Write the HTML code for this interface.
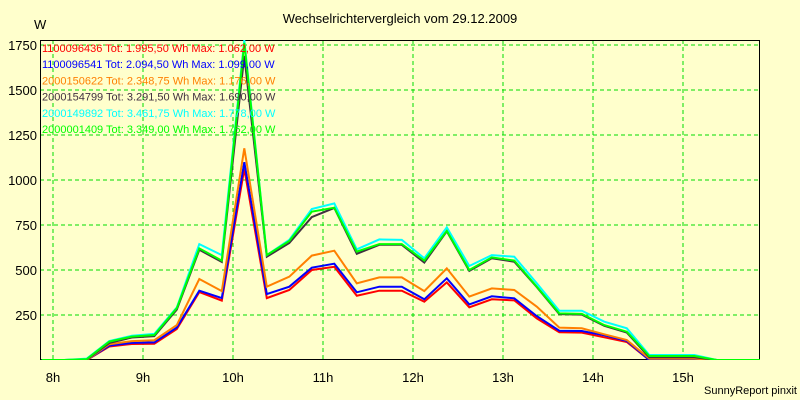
<!DOCTYPE html>
<html><head><meta charset="utf-8"><style>
html,body{margin:0;padding:0;background:#ffffcc;}
svg{display:block;font-family:"Liberation Sans",sans-serif;}
</style></head><body>
<svg id="chart" width="800" height="400" viewBox="0 0 800 400">
<rect x="0" y="0" width="800" height="400" fill="#ffffcc"/>
<text x="400" y="23" text-anchor="middle" font-size="13" fill="#000">Wechselrichtervergleich vom 29.12.2009</text>
<text x="34" y="29" font-size="13" fill="#000">W</text>
<text x="797" y="394" text-anchor="end" font-size="11" fill="#000">SunnyReport pinxit</text>
<g id="grid"></g>
<g id="axes"></g>
<g id="series"></g>
<g id="legend"></g>
</svg>
<script>
const yTicks = [250, 500, 750, 1000, 1250, 1500, 1750];
const xTickHours = [8, 9, 10, 11, 12, 13, 14, 15];
const xTickLabels = ["8h", "9h", "10h", "11h", "12h", "13h", "14h", "15h"];
const times = [7.875, 8.125, 8.375, 8.625, 8.875, 9.125, 9.375, 9.625, 9.875, 10.125, 10.375, 10.625, 10.875, 11.125, 11.375, 11.625, 11.875, 12.125, 12.375, 12.625, 12.875, 13.125, 13.375, 13.625, 13.875, 14.125, 14.375, 14.625, 14.875, 15.125, 15.375, 15.625, 15.875];
const seriesRed    = [0,0,0,75,89,90,172,377,330,1062,344,389,500,518,357,385,385,324,431,293,337,331,231,154,152,126,100,0,0,0,0,0,0];
const seriesBlue   = [0,0,0,80,95,98,180,385,344,1099,366,407,513,535,376,407,407,337,454,309,354,343,244,163,161,137,106,0,0,0,0,0,0];
const seriesOrange = [0,0,0,88,105,110,194,450,383,1176,407,463,580,607,426,459,459,383,509,352,398,389,296,180,176,143,111,8,8,8,0,0,0];
const seriesDark   = [0,0,3,95,125,132,280,612,545,1690,574,650,794,845,590,640,640,541,715,495,565,546,405,255,252,190,152,15,15,15,0,0,0];
const seriesCyan   = [0,0,8,105,135,145,292,644,583,1778,583,668,839,870,615,670,667,565,737,522,583,574,426,274,274,213,176,28,28,28,0,0,0];
const seriesGreen  = [0,0,5,102,130,139,288,620,552,1762,583,661,824,846,602,644,644,552,718,500,570,552,407,259,256,194,157,22,22,22,0,0,0];
const seriesNames = ["1100096436 Tot: 1.995,50 Wh Max: 1.062,00 W","1100096541 Tot: 2.094,50 Wh Max: 1.099,00 W","2000150622 Tot: 2.348,75 Wh Max: 1.176,00 W","2000154799 Tot: 3.291,50 Wh Max: 1.690,00 W","2000149892 Tot: 3.461,75 Wh Max: 1.778,00 W","2000001409 Tot: 3.349,00 Wh Max: 1.762,00 W"];
const seriesColors = ["#ff0000","#0000ff","#ff8000","#403040","#00ffff","#00ff00"];
const allSeries = [seriesRed, seriesBlue, seriesOrange, seriesDark, seriesCyan, seriesGreen];
const seriesKeys = ["red","blue","orange","dark","cyan","green"];

const L=40, R=760, T=40, B=360;
const ns="http://www.w3.org/2000/svg";
function xs(t){ return 53 + (t-8)*90; }
function ys(v){ return 360 - v*0.18; }
function mk(tag, attrs, parent){ const e=document.createElementNS(ns,tag); for(const k in attrs) e.setAttribute(k,attrs[k]); parent.appendChild(e); return e; }

const grid=document.getElementById('grid'), axes=document.getElementById('axes'), ser=document.getElementById('series'), leg=document.getElementById('legend');
yTicks.forEach(v=>{
  const l=mk('line',{x1:L,x2:R,y1:ys(v),y2:ys(v),stroke:'#00dd00','stroke-width':1,'stroke-dasharray':'4,3'},grid);
  
  
  const t=mk('text',{x:37,y:ys(v)+5,'text-anchor':'end','font-size':13,fill:'#000'},axes);
  t.textContent=v;
  
  
});
xTickHours.forEach((h,i)=>{
  const l=mk('line',{x1:xs(h),x2:xs(h),y1:T,y2:B,stroke:'#00dd00','stroke-width':1,'stroke-dasharray':'4,3'},grid);
  
  
  const t=mk('text',{x:xs(h),y:382,'text-anchor':'middle','font-size':13,fill:'#000'},axes);
  t.textContent=xTickLabels[i];
  
  
});
const frame=mk('rect',{x:L+0.5,y:T+0.5,width:R-L-1,height:B-T-1,fill:'none',stroke:'#000','stroke-width':1},axes);



const clip=mk('clipPath',{id:'pc'},ser);
mk('rect',{x:L,y:T,width:R-L,height:B-T},clip);
allSeries.forEach((s,k)=>{
  const d=s.map((v,i)=>(i?'L':'M')+xs(times[i]).toFixed(1)+','+ys(v).toFixed(1)).join(' ');
  const p=mk('path',{d:d,fill:'none',stroke:seriesColors[k],'stroke-width':2,'stroke-linejoin':'miter','clip-path':'url(#pc)'},ser);
  
  
});
seriesNames.forEach((n,k)=>{
  const t=mk('text',{x:42,y:52+k*16.2,'font-size':11,fill:seriesColors[k]},leg);
  t.textContent=n;
  
  
});
</script>
</body></html>
